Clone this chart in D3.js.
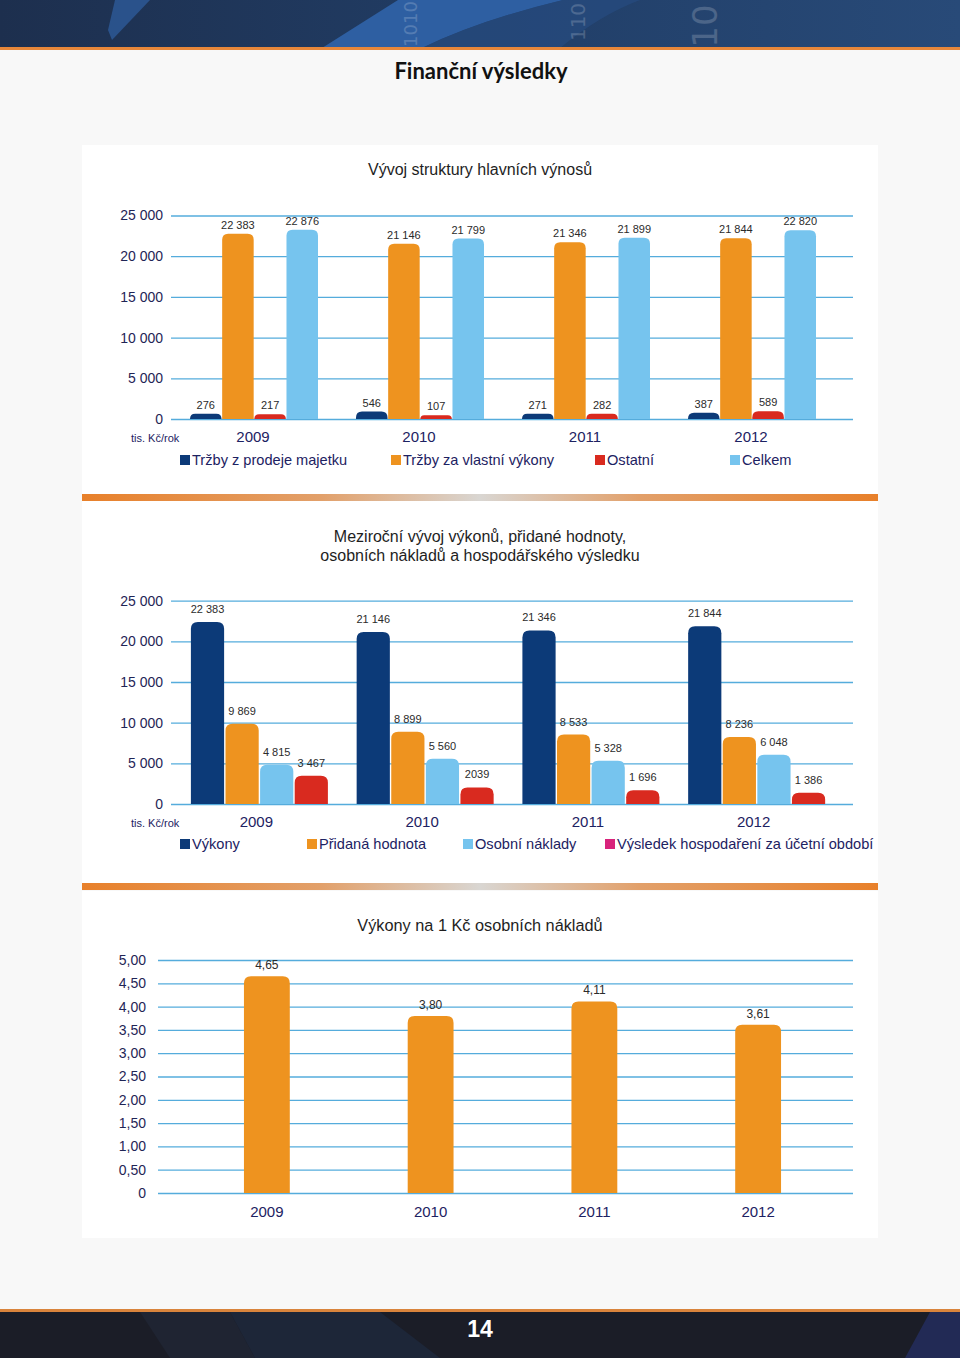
<!DOCTYPE html>
<html><head><meta charset="utf-8">
<script src="https://cdn.jsdelivr.net/npm/d3@7"></script>
<style>body{margin:0;background:#f8f8f8} svg{display:block}</style>
</head><body><svg id="c" width="960" height="1358"></svg>
<script>
// ---------- DATA ----------
const years = ["2009", "2010", "2011", "2012"];

// Chart 1: Vývoj struktury hlavních výnosů
const revSeries = ["Tržby z prodeje majetku", "Tržby za vlastní výkony", "Ostatní", "Celkem"];
const revMajetek = [276, 546, 271, 387];
const revVykony = [22383, 21146, 21346, 21844];
const revOstatni = [217, 107, 282, 589];
const revCelkem = [22876, 21799, 21899, 22820];
const revTicks = [0, 5000, 10000, 15000, 20000, 25000];

// Chart 2: Meziroční vývoj výkonů, přidané hodnoty, osobních nákladů a HV
const perfSeries = ["Výkony", "Přidaná hodnota", "Osobní náklady", "Výsledek hospodaření za účetní období"];
const perfVykony = [22383, 21146, 21346, 21844];
const perfPridana = [9869, 8899, 8533, 8236];
const perfOsobni = [4815, 5560, 5328, 6048];
const perfVysledek = [3467, 2039, 1696, 1386];
const perfVysledekLabels = ["3 467", "2039", "1 696", "1 386"];
const perfTicks = [0, 5000, 10000, 15000, 20000, 25000];

// Chart 3: Výkony na 1 Kč osobních nákladů
const ratioValues = [4.65, 3.80, 4.11, 3.61];
const ratioTicks = [0, 0.5, 1, 1.5, 2, 2.5, 3, 3.5, 4, 4.5, 5];

// ---------- STYLE ----------
const NAVY = "#0c3a78", ORANGE = "#ee931f", RED = "#d92a1f", LBLUE = "#76c4ee", MAGENTA = "#d8237c";
const GRID = "#55acdc", TICKTXT = "#1f2556", LEGTXT = "#1d2262", VALTXT = "#2b2b2b";
const FONT = "'Liberation Sans', Arial, Helvetica, sans-serif";

const loc = d3.formatLocale({decimal: ",", thousands: " ", grouping: [3], currency: ["", ""]});
const fmtInt = loc.format(",d");
const fmtDec = loc.format(",.2f");

const svg = d3.select("#c");
const defs = svg.append("defs");

// ---------- PAGE DECOR ----------
const bg = defs.append("linearGradient").attr("id", "topbg").attr("x1", 0).attr("x2", 1);
bg.append("stop").attr("offset", 0).attr("stop-color", "#1d2f4e");
bg.append("stop").attr("offset", 0.6).attr("stop-color", "#22406a");
bg.append("stop").attr("offset", 1).attr("stop-color", "#284a78");
svg.append("rect").attr("x", 0).attr("y", 0).attr("width", 960).attr("height", 48).attr("fill", "url(#topbg)");
svg.append("path").attr("d", "M115,0 L150,0 L112,40 L108,30 Z").attr("fill", "#2d5a98").attr("opacity", 0.8);
svg.append("path").attr("d", "M322,48 L398,0 L563,0 Q480,20 422,48 Z").attr("fill", "#2e5fa2");
svg.append("path").attr("d", "M563,0 Q480,20 422,48 L560,48 Q600,15 640,0 Z").attr("fill", "#264b80").attr("opacity", 0.7);
[[410, 24, "1010", 18], [578, 22, "110", 20], [705, 26, "10", 34]].forEach(([x, y, t, s]) => {
  svg.append("text").attr("transform", `translate(${x},${y}) rotate(-90)`)
    .attr("text-anchor", "middle").attr("dominant-baseline", "central")
    .attr("font-family", "'DejaVu Sans', sans-serif").attr("font-size", s).attr("fill", "#ffffff").attr("opacity", 0.18).text(t);
});
svg.append("rect").attr("x", 0).attr("y", 47).attr("width", 960).attr("height", 3).attr("fill", "#e7873a");

svg.append("text").attr("x", 481).attr("y", 79).attr("text-anchor", "middle")
  .attr("font-family", "Lato, 'Open Sans', sans-serif").attr("font-weight", 700).attr("font-size", 22)
  .attr("fill", "#111").text("Finanční výsledky");

// bottom banner
svg.append("rect").attr("x", 0).attr("y", 1309).attr("width", 960).attr("height", 3).attr("fill", "#d9843c");
svg.append("rect").attr("x", 0).attr("y", 1312).attr("width", 960).attr("height", 46).attr("fill", "#1b1d27");
svg.append("path").attr("d", "M140,1312 L230,1312 L255,1358 L170,1358 Z").attr("fill", "#1f2432");
svg.append("path").attr("d", "M230,1312 L380,1312 L440,1358 L255,1358 Z").attr("fill", "#1d2638");
svg.append("path").attr("d", "M930,1312 L960,1312 L960,1358 L905,1358 Z").attr("fill", "#222a55");
svg.append("text").attr("x", 480).attr("y", 1337).attr("text-anchor", "middle")
  .attr("font-family", "'Liberation Sans Narrow', 'Liberation Sans', sans-serif").attr("font-weight", 700)
  .attr("font-size", 23).attr("fill", "#ffffff").text("14");

// panels
[[145, 349], [501, 382], [891, 347]].forEach(([y, h]) => {
  svg.append("rect").attr("x", 82).attr("y", y).attr("width", 796).attr("height", h).attr("fill", "#ffffff");
});
const sep = defs.append("linearGradient").attr("id", "sep").attr("x1", 0).attr("x2", 1);
[[0, "#e8802a"], [0.3, "#e2a06a"], [0.5, "#d9d6d2"], [0.7, "#e2a06a"], [1, "#e8802a"]]
  .forEach(([o, c]) => sep.append("stop").attr("offset", o).attr("stop-color", c));
[494, 883].forEach(y => svg.append("rect").attr("x", 82).attr("y", y).attr("width", 796).attr("height", 7).attr("fill", "url(#sep)"));

// ---------- HELPERS ----------
function topRound(x, y, w, h, r) {
  r = Math.min(r, w / 2, Math.max(h, 0));
  return `M${x},${y + h}V${y + r}Q${x},${y} ${x + r},${y}H${x + w - r}Q${x + w},${y} ${x + w},${y + r}V${y + h}Z`;
}

function yAxisGrid(g, y, ticks, x0, x1, pad, fmt) {
  const ax = d3.axisLeft(y).tickValues(ticks).tickSize(-(x1 - x0)).tickPadding(pad).tickFormat(fmt);
  const a = g.append("g").attr("transform", `translate(${x0},0)`).call(ax);
  a.select(".domain").remove();
  a.selectAll(".tick line").attr("stroke", GRID).attr("stroke-width", 1.3);
  a.selectAll(".tick text").attr("font-family", FONT).attr("font-size", 14).attr("fill", TICKTXT);
}

function legend(g, items, xs, y) {
  items.forEach((it, i) => {
    g.append("rect").attr("x", xs[i]).attr("y", y - 10).attr("width", 10).attr("height", 10).attr("fill", it.color);
    g.append("text").attr("x", xs[i] + 12).attr("y", y).attr("font-family", FONT).attr("font-size", 14.6)
      .attr("fill", LEGTXT).text(it.name);
  });
}

function title(lines, y0, size) {
  lines.forEach((t, i) => svg.append("text").attr("x", 480).attr("y", y0 + i * 19).attr("text-anchor", "middle")
    .attr("font-family", FONT).attr("font-size", size).attr("fill", "#1e1e1e").text(t));
}

// ---------- CHART 1 ----------
(function () {
  const g = svg.append("g");
  title(["Vývoj struktury hlavních výnosů"], 175, 16);
  const y = d3.scaleLinear().domain([0, 25000]).range([419, 215.5]);
  yAxisGrid(g, y, revTicks, 171, 853, 8, d => d === 0 ? "0" : fmtInt(d));
  const x = d3.scaleBand().domain(years).range([171, 835]);
  const sub = d3.scaleBand().domain(revSeries).range([19, 147]).paddingInner(0.02);
  const series = [
    {name: revSeries[0], vals: revMajetek, color: NAVY},
    {name: revSeries[1], vals: revVykony, color: ORANGE},
    {name: revSeries[2], vals: revOstatni, color: RED},
    {name: revSeries[3], vals: revCelkem, color: LBLUE}
  ];
  const ext = 3;
  series.forEach(s => {
    years.forEach((yr, i) => {
      const bx = x(yr) + sub(s.name), bw = sub.bandwidth();
      const top = y(s.vals[i]) - ext;
      g.append("path").attr("d", topRound(bx, top, bw, y(0) - top, 6)).attr("fill", s.color);
      g.append("text").attr("x", bx + bw / 2).attr("y", top - 5).attr("text-anchor", "middle")
        .attr("font-family", FONT).attr("font-size", 11).attr("fill", VALTXT).text(fmtInt(s.vals[i]));
    });
  });
  years.forEach(yr => g.append("text").attr("x", x(yr) + x.bandwidth() / 2 - 1).attr("y", 442).attr("text-anchor", "middle")
    .attr("font-family", FONT).attr("font-size", 15).attr("fill", LEGTXT).text(yr));
  g.append("text").attr("x", 131).attr("y", 442).attr("font-family", FONT).attr("font-size", 11).attr("fill", LEGTXT).text("tis. Kč/rok");
  legend(g, series, [180, 391, 595, 730], 465);
})();

// ---------- CHART 2 ----------
(function () {
  const g = svg.append("g");
  title(["Meziroční vývoj výkonů, přidané hodnoty,", "osobních nákladů a hospodářského výsledku"], 542, 16);
  const y = d3.scaleLinear().domain([0, 25000]).range([804, 600.7]);
  yAxisGrid(g, y, perfTicks, 171, 853, 8, d => d === 0 ? "0" : fmtInt(d));
  const x = d3.scaleBand().domain(years).range([176.5, 839.5]);
  const sub = d3.scaleBand().domain(perfSeries).range([14.4, 151.4]).paddingInner(0.04);
  const series = [
    {name: perfSeries[0], vals: perfVykony, color: NAVY, legend: NAVY},
    {name: perfSeries[1], vals: perfPridana, color: ORANGE, legend: ORANGE},
    {name: perfSeries[2], vals: perfOsobni, color: LBLUE, legend: LBLUE},
    {name: perfSeries[3], vals: perfVysledek, color: RED, legend: MAGENTA, labels: perfVysledekLabels}
  ];
  series.forEach(s => {
    years.forEach((yr, i) => {
      const bx = x(yr) + sub(s.name), bw = sub.bandwidth();
      const top = y(s.vals[i]);
      g.append("path").attr("d", topRound(bx, top, bw, y(0) - top, 7)).attr("fill", s.color);
      g.append("text").attr("x", bx + bw / 2).attr("y", top - 9).attr("text-anchor", "middle")
        .attr("font-family", FONT).attr("font-size", 11).attr("fill", VALTXT)
        .text(s.labels ? s.labels[i] : fmtInt(s.vals[i]));
    });
  });
  years.forEach(yr => g.append("text").attr("x", x(yr) + x.bandwidth() / 2 - 3).attr("y", 827).attr("text-anchor", "middle")
    .attr("font-family", FONT).attr("font-size", 15).attr("fill", LEGTXT).text(yr));
  g.append("text").attr("x", 131).attr("y", 827).attr("font-family", FONT).attr("font-size", 11).attr("fill", LEGTXT).text("tis. Kč/rok");
  legend(g, series.map(s => ({name: s.name, color: s.legend})), [180, 307, 463, 605], 849);
})();

// ---------- CHART 3 ----------
(function () {
  const g = svg.append("g");
  title(["Výkony na 1 Kč osobních nákladů"], 931, 16.3);
  const y = d3.scaleLinear().domain([0, 5]).range([1193, 960]);
  yAxisGrid(g, y, ratioTicks, 158, 853, 12, d => d === 0 ? "0" : fmtDec(d));
  const x = d3.scaleBand().domain(years).range([185, 840]).paddingInner(0.72).paddingOuter(0.36);
  years.forEach((yr, i) => {
    const bx = x(yr), bw = x.bandwidth(), top = y(ratioValues[i]);
    g.append("path").attr("d", topRound(bx, top, bw, y(0) - top, 7)).attr("fill", ORANGE);
    g.append("text").attr("x", bx + bw / 2).attr("y", top - 7).attr("text-anchor", "middle")
      .attr("font-family", "'Liberation Sans Narrow', " + FONT).attr("font-size", 12).attr("fill", VALTXT)
      .text(fmtDec(ratioValues[i]));
    g.append("text").attr("x", bx + bw / 2).attr("y", 1217).attr("text-anchor", "middle")
      .attr("font-family", FONT).attr("font-size", 15).attr("fill", LEGTXT).text(yr);
  });
})();
</script></body></html>
